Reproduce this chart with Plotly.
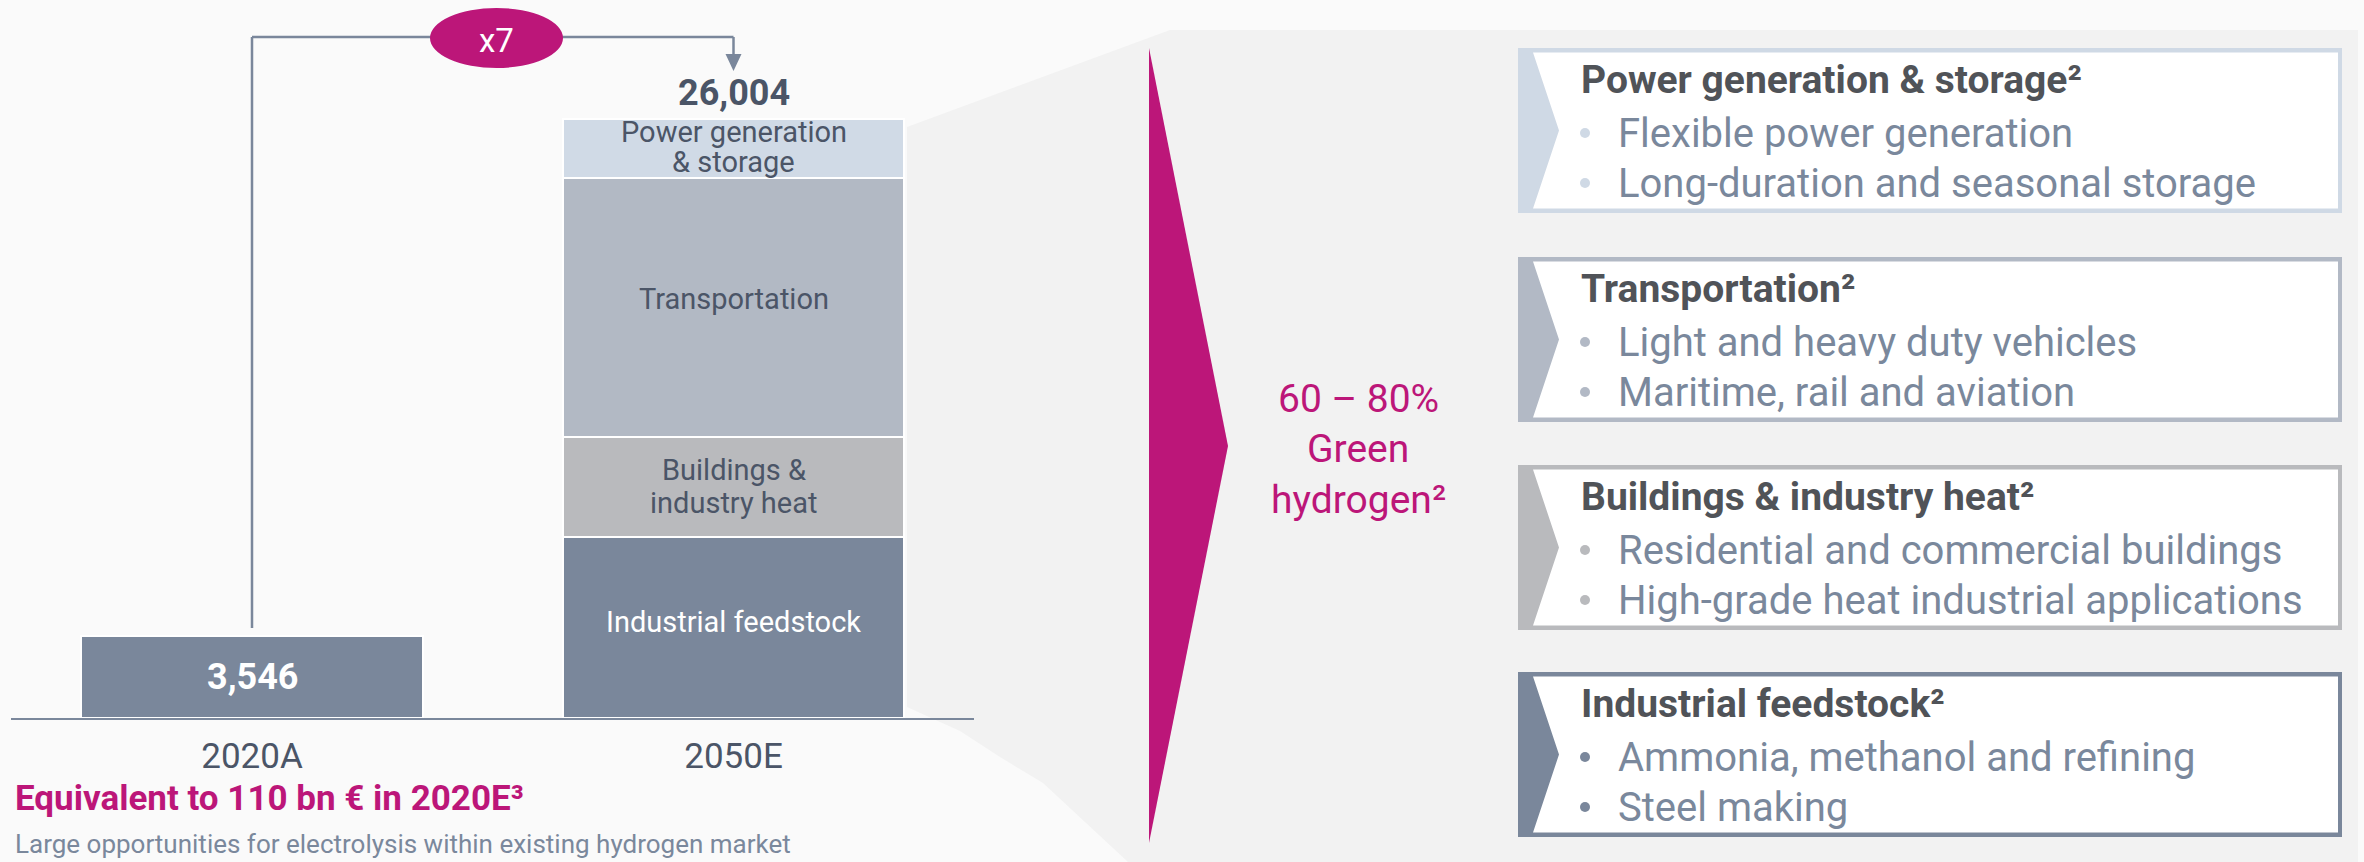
import plotly.graph_objects as go

# ---------------- data ----------------
categories = ["2020A", "2050E"]
total_2020 = 3546
segment_names = ["Industrial feedstock", "Buildings & industry heat", "Transportation", "Power generation & storage"]
segment_values = [7860, 4340, 11245, 2559]           # stacked bottom -> top, 2050E
segment_bar_labels = [["Industrial feedstock"], ["Buildings &", "industry heat"],
                      ["Transportation"], ["Power generation", "& storage"]]
growth_label = "x7"
green_lines = ["60 – 80%", "Green", "hydrogen²"]
box_titles = ["Power generation & storage²", "Transportation²", "Buildings & industry heat²", "Industrial feedstock²"]
box_bullets = [["Flexible power generation", "Long-duration and seasonal storage"],
               ["Light and heavy duty vehicles", "Maritime, rail and aviation"],
               ["Residential and commercial buildings", "High-grade heat industrial applications"],
               ["Ammonia, methanol and refining", "Steel making"]]
footer_title = "Equivalent to 110 bn € in 2020E³"
footer_sub = "Large opportunities for electrolysis within existing hydrogen market"

# ---------------- styles ----------------
W, H = 2364, 862
FONT = "Roboto"
MAGENTA = "#bc1679"
SLATE = "#7a879b"
DARK = "#4b5567"
TITLE_C = "#505358"
BULLET_C = "#7a889c"
seg_colors = ["#7a879b", "#b9babd", "#b2b9c4", "#d0dae6"]
seg_text_colors = ["#ffffff", DARK, DARK, DARK]
box_colors = ["#cfd9e5", "#b2b9c5", "#b9babd", "#7a879b"]


def PX(x):
    return x / W


def PY(y):
    return 1 - y / H


total_2050 = sum(segment_values)
BASE_PX, TOP_PX = 718, 119
Y_TOP = total_2050 * BASE_PX / (BASE_PX - TOP_PX)

fig = go.Figure()
fig.add_bar(x=[categories[0]], y=[total_2020], width=0.71, marker=dict(color=SLATE, line=dict(color="#ffffff", width=2)),
            hoverinfo="skip")
for name, val, col in zip(segment_names, segment_values, seg_colors):
    fig.add_bar(x=[categories[1]], y=[val], name=name, width=0.71,
                marker=dict(color=col, line=dict(color="#ffffff", width=2)), hoverinfo="skip")

ann = []
shapes = []


def text(x, y, s, size, color, bold=False, xanchor="center", xref="paper", yref="paper", yshift=0):
    if bold:
        s = "<b>" + s + "</b>"
    ann.append(dict(x=x, y=y, xref=xref, yref=yref, text=s, showarrow=False, xanchor=xanchor,
                    yanchor="middle", yshift=yshift, font=dict(family=FONT, size=size, color=color)))


def by_baseline(baseline, fs):
    return PY(baseline - 0.345 * fs)


# labels on bars (data coordinates)
cum = 0
seg_shifts = [[5.5], [17, -16], [8.5], [16.5, -13.5]]
for val, lines, tc, shifts in zip(segment_values, segment_bar_labels, seg_text_colors, seg_shifts):
    mid = cum + val / 2
    for ln, sh in zip(lines, shifts):
        text(categories[1], mid, ln, 29, tc, xref="x", yref="y", yshift=sh)
    cum += val
text(categories[1], total_2050, f"{total_2050:,}", 36, DARK, bold=True, xref="x", yref="y", yshift=26.4)
text(categories[0], total_2020 / 2, f"{total_2020:,}", 36, "#ffffff", bold=True, xref="x", yref="y")

# background panel
pts = [(907, 127), (1170, 30), (2358, 30), (2358, 862), (1128, 862), (1043, 783), (1000, 757), (960, 731), (907, 707)]
path = "M " + " L ".join(f"{PX(x)},{PY(y)}" for x, y in pts) + " Z"
shapes.append(dict(type="path", path=path, xref="paper", yref="paper", fillcolor="#f2f2f2",
                   line=dict(width=0), layer="below"))

# connector
lc = dict(color=SLATE, width=2.5)
shapes.append(dict(type="line", xref="x", yref="paper", x0=categories[0], x1=categories[0], y0=PY(628), y1=PY(37), line=lc))
shapes.append(dict(type="line", xref="x", yref="paper", x0=categories[0], x1=categories[1], y0=PY(37), y1=PY(37), line=lc))
shapes.append(dict(type="line", xref="x", yref="paper", x0=categories[1], x1=categories[1], y0=PY(37), y1=PY(56), line=lc))
ax = 733.5
shapes.append(dict(type="path", xref="paper", yref="paper",
                   path=f"M {PX(ax-8)},{PY(54)} L {PX(ax+8)},{PY(54)} L {PX(ax)},{PY(71)} Z",
                   fillcolor=SLATE, line=dict(width=0)))
shapes.append(dict(type="circle", xref="paper", yref="paper", x0=PX(430), x1=PX(563), y0=PY(8), y1=PY(68),
                   fillcolor=MAGENTA, line=dict(width=0)))
text(PX(496.5), by_baseline(52, 33), growth_label, 33, "#ffffff")

# magenta wedge
shapes.append(dict(type="path", xref="paper", yref="paper",
                   path=f"M {PX(1149)},{PY(48)} L {PX(1228)},{PY(446)} L {PX(1149)},{PY(843)} Z",
                   fillcolor=MAGENTA, line=dict(width=0)))
for ln, bl in zip(green_lines, [412, 462, 513]):
    text(PX(1358), by_baseline(bl, 39), ln, 39, MAGENTA)

# boxes
box_tops = [48, 257, 465, 672]
BH = 165
for top, title, bullets, col in zip(box_tops, box_titles, box_bullets, box_colors):
    shapes.append(dict(type="rect", xref="paper", yref="paper", x0=PX(1518), x1=PX(2342), y0=PY(top), y1=PY(top + BH),
                       fillcolor=col, line=dict(width=0)))
    inner = [(1533, top + 4.5), (2338, top + 4.5), (2338, top + BH - 4.5), (1533, top + BH - 4.5), (1559, top + BH / 2)]
    p = "M " + " L ".join(f"{PX(x)},{PY(y)}" for x, y in inner) + " Z"
    shapes.append(dict(type="path", xref="paper", yref="paper", path=p, fillcolor="#ffffff", line=dict(width=0)))
    text(PX(1579), by_baseline(top + 45, 39), title, 39, TITLE_C, bold=True, xanchor="left")
    for b, off in zip(bullets, [99, 149]):
        text(PX(1616), by_baseline(top + off, 40), b, 40, BULLET_C, xanchor="left")
        cy = top + off - 14
        shapes.append(dict(type="circle", xref="paper", yref="paper", x0=PX(1580), x1=PX(1590),
                           y0=PY(cy - 5), y1=PY(cy + 5), fillcolor=col, line=dict(width=0)))

# footer
text(PX(13), by_baseline(811, 35), footer_title, 35, MAGENTA, bold=True, xanchor="left")
text(PX(13), by_baseline(853, 26), footer_sub, 26, BULLET_C, xanchor="left")

fig.update_layout(
    width=W, height=H, margin=dict(l=0, r=0, t=0, b=0),
    paper_bgcolor="#fafafa", plot_bgcolor="rgba(0,0,0,0)",
    barmode="stack", showlegend=False,
    font=dict(family=FONT),
    xaxis=dict(type="category", categoryorder="array", categoryarray=categories, range=[-0.5, 1.5],
               domain=[11.25 / W, 974.25 / W], showline=True, linecolor=SLATE, linewidth=2,
               showgrid=False, zeroline=False, ticks="", ticklabelstandoff=6,
               tickfont=dict(family=FONT, size=35, color=DARK)),
    yaxis=dict(range=[0, Y_TOP], domain=[(H - BASE_PX) / H, 1], visible=False),
    shapes=shapes, annotations=ann,
)
fig.write_html("out.html")
